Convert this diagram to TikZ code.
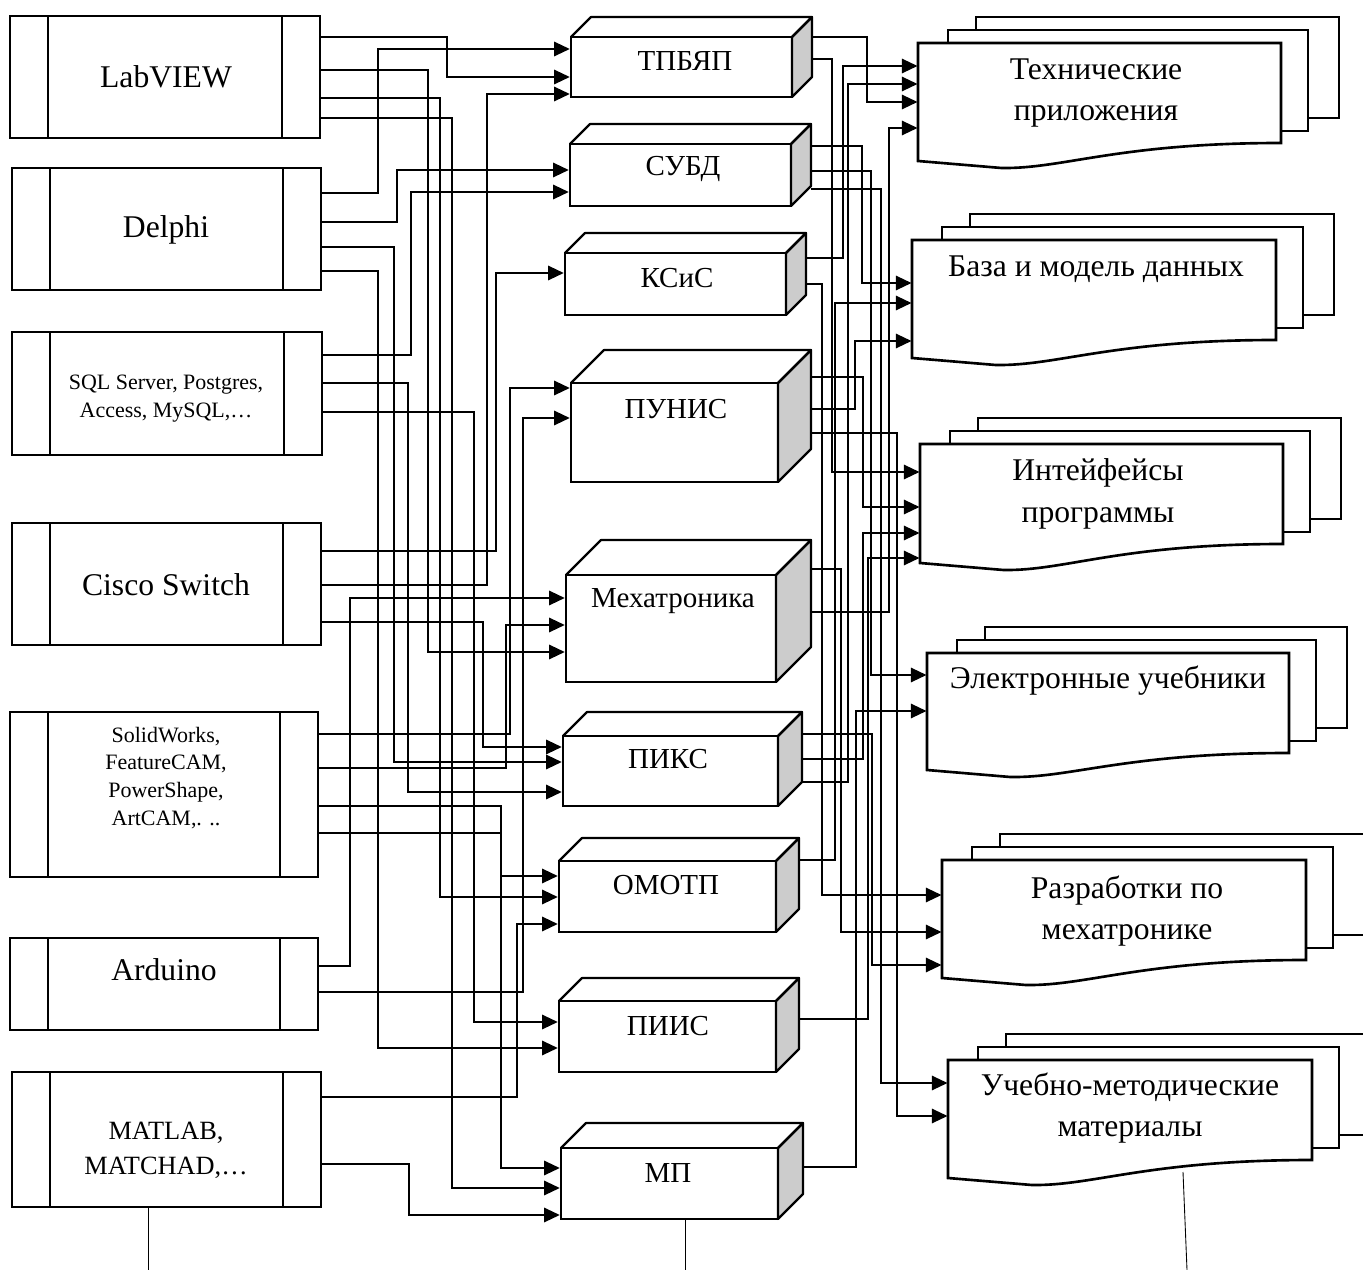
\documentclass[tikz,border=0pt]{standalone}
\usepackage{fontspec}
\setmainfont{Liberation Serif}
\usetikzlibrary{arrows.meta,fit}

% program box with side bars: name, left, top, right, bottom
\newcommand{\progbox}[5]{%
  \node[prog, fit={(#2,#3)(#4,#5)}] (#1) {};
  \draw[bar] (#2+38,#3) -- (#2+38,#5) (#4-38,#3) -- (#4-38,#5);
}
% 3d block: name, left, top, right, bottom, depth
\newcommand{\blockbox}[6]{%
  \node[blk, fit={(#2,#3)(#4,#5)}] (#1) {};
  \filldraw[blkface, fill=black!20] (#4,#3) -- (#4+#6,#3-#6) -- (#4+#6,#5-#6) -- (#4,#5) -- cycle;
  \draw[blkface] (#2,#3) -- (#2+#6,#3-#6) -- (#4+#6,#3-#6) -- (#4,#3);
  \coordinate (#1-o) at (#4+#6,#3);
}
% stack of documents: name, left, top, right, bottom right, bottom left
\newcommand{\docstack}[6]{%
  \draw[doc] (#2+58,#3-13) -- (#2+58,#3-26) -- (#4+58,#3-26) -- (#4+58,#5-25) -- (#4+27,#5-25);
  \draw[doc] (#2+30,#3) -- (#2+30,#3-13) -- (#4+27,#3-13) -- (#4+27,#5-12) -- (#4,#5-12);
  \draw[doc] (#2,#3) -- (#4,#3) -- (#4,#5)
    .. controls (#4-0.45*#4+0.45*#2,#5) and (#2+0.4*#4-0.4*#2,#6+8) .. (#2+0.23*#4-0.23*#2,#6+7)
    -- (#2,#6) -- cycle;
  \node[fit={(#2,#3)(#4,#6)}, inner sep=0] (#1) {};
}
% connector: from, y, via x, to, y
\newcommand{\wire}[5]{%
  \draw[link] (#1 |- 0,#2) -| (#3,#5) -- (#4.west |- 0,#5);
}

\begin{document}
\begin{tikzpicture}[x=0.02cm, y=-0.02cm,
    prog/.style={draw, line width=1.1pt, inner sep=0},
    bar/.style={line width=1.1pt},
    blk/.style={draw, line width=1.25pt, inner sep=0},
    blkface/.style={line width=1.25pt, line join=round},
    doc/.style={line width=1.5pt},
    link/.style={line width=1.65pt, -{Triangle[length=9pt,width=8pt]}},
    big/.style={font=\fontsize{18}{22}\selectfont},
    small/.style={font=\fontsize{12.5}{15.9}\selectfont, align=center},
    med/.style={font=\fontsize{15}{19.8}\selectfont, align=center},
    mid/.style={font=\fontsize{16.5}{20}\selectfont},
    docl/.style={font=\fontsize{18}{23.8}\selectfont, align=center}]
  \useasboundingbox (0,0) rectangle (1363,1270);

  % left column
  \progbox{lab}{10}{16}{320}{138}
  \progbox{del}{12}{168}{321}{290}
  \progbox{sql}{12}{332}{322}{455}
  \progbox{cis}{12}{523}{321}{645}
  \progbox{sw}{10}{712}{318}{877}
  \progbox{ard}{10}{938}{318}{1030}
  \progbox{mat}{12}{1072}{321}{1207}
  \node[big] (lab-t) at (166,77) {LabVIEW};
  \node[big] (del-t) at (166,230) {Delphi};
  \node[small] (sql-t) at (166,399) {SQL Server, Postgres,\\Access, MySQL,…};
  \node[big] (cis-t) at (166,585) {Cisco Switch};
  \node[small] (sw-t) at (166,778) {SolidWorks,\\FeatureCAM,\\PowerShape,\\ArtCAM,. ..};
  \node[big] (ard-t) at (164,970) {Arduino};
  \node[med] (mat-t) at (166,1150) {MATLAB,\\MATCHAD,…};

  % middle column
  \blockbox{tpb}{571}{37}{792}{97}{20}
  \blockbox{subd}{570}{144}{791}{206}{20}
  \blockbox{ksis}{565}{253}{786}{315}{20}
  \blockbox{pun}{571}{383}{778}{482}{33}
  \blockbox{mech}{566}{575}{776}{682}{35}
  \blockbox{piks}{563}{736}{778}{806}{24}
  \blockbox{omo}{559}{861}{776}{932}{23}
  \blockbox{piis}{559}{1001}{776}{1072}{23}
  \blockbox{mp}{561}{1148}{778}{1219}{25}
  \node[mid] (tpb-t) at (685,61) {ТПБЯП};
  \node[mid] (subd-t) at (683,169) {СУБД};
  \node[mid] (ksis-t) at (677,278) {КСиС};
  \node[mid] (pun-t) at (676,409) {ПУНИС};
  \node[mid] (mech-t) at (673,601) {Мехатроника};
  \node[mid] (piks-t) at (668,759) {ПИКС};
  \node[mid] (omo-t) at (666,885) {ОМОТП};
  \node[mid] (piis-t) at (668,1026) {ПИИС};
  \node[mid] (mp-t) at (668,1173) {МП};

  % right column
  \docstack{tech}{918}{43}{1281}{143}{161}
  \docstack{base}{912}{240}{1276}{340}{358}
  \docstack{intf}{920}{444}{1283}{544}{563}
  \docstack{elec}{927}{653}{1289}{753}{770}
  \docstack{razr}{942}{860}{1306}{960}{978}
  \docstack{ucheb}{948}{1060}{1312}{1160}{1178}
  \node[docl] (tech-t) at (1096,93) {Технические\\приложения};
  \node[docl] (base-t) at (1096,269) {База и модель данных};
  \node[docl] (intf-t) at (1098,494) {Интейфейсы\\программы};
  \node[docl] (elec-t) at (1108,681) {Электронные учебники};
  \node[docl] (razr-t) at (1127,911) {Разработки по\\мехатронике};
  \node[docl] (ucheb-t) at (1130,1108) {Учебно-методические\\материалы};

  % programs -> disciplines
  \wire{lab.east}{37}{447}{tpb}{77}
  \wire{lab.east}{70}{428}{mech}{652}
  \wire{lab.east}{98}{440}{omo}{897}
  \wire{lab.east}{118}{452}{mp}{1188}
  \wire{del.east}{193}{378}{tpb}{49}
  \wire{del.east}{222}{397}{subd}{170}
  \wire{del.east}{247}{394}{piks}{762}
  \wire{del.east}{271}{378}{piis}{1048}
  \wire{sql.east}{355}{411}{subd}{192}
  \wire{sql.east}{383}{408}{piks}{792}
  \wire{sql.east}{412}{474}{piis}{1022}
  \wire{cis.east}{551}{496}{ksis}{273}
  \wire{cis.east}{585}{487}{tpb}{94}
  \wire{cis.east}{622}{483}{piks}{747}
  \wire{sw.east}{734}{510}{pun}{388}
  \wire{sw.east}{768}{506}{mech}{625}
  \wire{sw.east}{806}{501}{omo}{876}
  \wire{sw.east}{833}{501}{mp}{1168}
  \wire{ard.east}{966}{350}{mech}{598}
  \wire{ard.east}{992}{523}{pun}{418}
  \wire{mat.east}{1097}{517}{omo}{924}
  \draw[link] (mat.east |- 0,1164) -- (409,1164) |- (mp.west |- 0,1215);

  % disciplines -> results
  \wire{tpb-o}{37}{867}{tech}{102}
  \wire{tpb-o}{59}{832}{intf}{472}
  \wire{subd-o}{146}{862}{base}{283}
  \wire{subd-o}{171}{871}{elec}{675}
  \wire{subd-o}{189}{881}{ucheb}{1083}
  \wire{ksis-o}{258}{843}{tech}{66}
  \wire{ksis-o}{284}{822}{razr}{895}
  \wire{pun-o}{377}{863}{intf}{507}
  \wire{pun-o}{409}{855}{base}{341}
  \wire{pun-o}{433}{897}{ucheb}{1116}
  \wire{mech-o}{569}{841}{razr}{932}
  \wire{mech-o}{612}{889}{tech}{128}
  \wire{piks-o}{734}{872}{razr}{965}
  \wire{piks-o}{759}{863}{intf}{533}
  \wire{piks-o}{782}{848}{tech}{84}
  \wire{omo-o}{860}{835}{base}{303}
  \wire{piis-o}{1019}{868}{intf}{558}
  \wire{mp-o}{1167}{856}{elec}{711}

  % lines to the bottom edge
  \draw[line width=0.5pt] (148,0 |- mat.south) -- (148,1270);
  \draw[line width=0.5pt] (685,0 |- mp.south) -- (685,1270);
  \draw[line width=0.5pt] (1183,1172) -- (1187,1270);
\end{tikzpicture}
\end{document}
